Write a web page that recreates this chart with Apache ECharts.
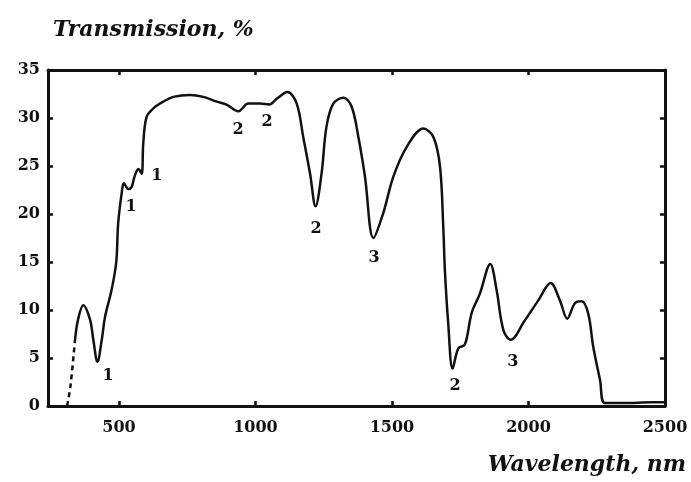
<!DOCTYPE html>
<html>
<head>
<meta charset="utf-8">
<script src="https://cdn.jsdelivr.net/npm/echarts@6/dist/echarts.min.js"></script>
<style>
  html, body { margin: 0; padding: 0; background: #fff; }
  #chart { width: 691px; height: 482px; }
</style>
</head>
<body>
<div id="chart"></div>
<script>
// Transmission spectrum: wavelength (nm) vs transmission (%)
const wavelength = [
  310, 322, 339, 350, 369, 394, 406, 421, 437, 449, 473, 490, 497, 510, 518,
  534, 546, 558, 571, 583, 589, 601, 626, 662, 699, 760, 809, 858, 894, 937,
  974, 1016, 1050, 1078, 1117, 1151, 1175, 1200, 1220, 1242, 1260, 1285, 1322,
  1352, 1377, 1401, 1432, 1468, 1505, 1554, 1615, 1652, 1676, 1688, 1694, 1706,
  1722, 1743, 1767, 1792, 1822, 1860, 1883, 1908, 1935, 1984, 2036, 2081, 2115,
  2142, 2170, 2195, 2219, 2237, 2262, 2280, 2350, 2450, 2500
];
const transmission = [
  0, 2, 6.9, 9, 10.5, 9, 6.9, 4.6, 6.9, 9.3, 12.1, 15, 19, 22.2, 23.2,
  22.6, 22.8, 24, 24.7, 24.2, 27.4, 30.1, 31, 31.7, 32.2, 32.4, 32.2, 31.7, 31.4, 30.7,
  31.5, 31.5, 31.4, 32, 32.7, 31.5, 28, 24.2, 20.8, 24.2, 29.1, 31.5, 32.1,
  31.2, 28, 23.9, 17.5, 20.1, 23.9, 27, 28.9, 28, 24.9, 18.5, 14, 8.6,
  3.9, 6, 6.4, 9.7, 11.7, 14.8, 12.1, 7.9, 6.9, 8.8, 11, 12.8, 11,
  9.1, 10.7, 10.9, 9.6, 6.2, 2.7, 0.3, 0.3, 0.4, 0.4
];
// the first rising stretch is drawn dashed
const dashedCount = 3;

// absorption band markers (overtone order) placed next to the dips
const bandText = ['1', '1', '1', '2', '2', '2', '3', '2', '3'];
const bandX = [460, 544, 639, 936, 1042, 1222, 1434, 1731, 1943];
const bandY = [3.1, 20.7, 24, 28.75, 29.6, 18.5, 15.4, 2.1, 4.6];

const xTicks = [500, 1000, 1500, 2000, 2500];

const pairs = wavelength.map((w, i) => [w, transmission[i]]);
const dashedPart = pairs.slice(0, dashedCount);
const solidPart = pairs.slice(dashedCount - 1);
const bandPoints = bandX.map((x, i) => ({ value: [x, bandY[i]], name: bandText[i] }));

const serif = "'DejaVu Serif', 'Liberation Serif', serif";
const labelFont = { fontFamily: serif, fontWeight: 'bold', fontSize: 16, color: '#111' };
const frameLine = { show: true, onZero: false, lineStyle: { color: '#111', width: 3 } };
const innerTick = { show: true, inside: true, length: 5, lineStyle: { color: '#111', width: 2.5 } };
const plain = v => String(v);

const chart = echarts.init(document.getElementById('chart'), null, { renderer: 'canvas' });
chart.setOption({
  backgroundColor: '#fff',
  animation: false,
  title: [
    {
      text: 'Transmission, %',
      left: 48, top: 14,
      textStyle: { fontFamily: serif, fontStyle: 'italic', fontWeight: 'bold', fontSize: 22, color: '#111' }
    },
    {
      text: 'Wavelength, nm',
      right: 0, top: 449,
      textStyle: { fontFamily: serif, fontStyle: 'italic', fontWeight: 'bold', fontSize: 22, color: '#111' }
    }
  ],
  grid: { left: 48, right: 26, top: 70, bottom: 76, containLabel: false },
  xAxis: [
    {
      type: 'value', position: 'bottom', min: 240, max: 2500,
      axisLine: frameLine,
      axisTick: Object.assign({ customValues: xTicks }, innerTick),
      axisLabel: Object.assign({ customValues: xTicks, margin: 14, formatter: plain }, labelFont),
      splitLine: { show: false }
    },
    {
      type: 'value', position: 'top', min: 240, max: 2500,
      axisLine: frameLine,
      axisTick: Object.assign({ customValues: xTicks.slice(0, 4) }, innerTick),
      axisLabel: { show: false },
      splitLine: { show: false }
    }
  ],
  yAxis: [
    {
      type: 'value', position: 'left', min: 0, max: 35, interval: 5,
      axisLine: frameLine,
      axisTick: innerTick,
      axisLabel: Object.assign({ margin: 8, formatter: plain }, labelFont),
      splitLine: { show: false }
    },
    {
      type: 'value', position: 'right', min: 0, max: 35, interval: 5,
      axisLine: frameLine,
      axisTick: innerTick,
      axisLabel: { show: false },
      splitLine: { show: false }
    }
  ],
  series: [
    {
      type: 'line', data: dashedPart, showSymbol: false, smooth: 0.3,
      lineStyle: { color: '#111', width: 2.5, type: [5, 4] }
    },
    {
      type: 'line', data: solidPart, showSymbol: false, smooth: 0.35,
      lineStyle: { color: '#111', width: 2.5 }
    },
    {
      type: 'scatter', data: bandPoints, symbolSize: 0,
      itemStyle: { color: '#111', opacity: 1 },
      label: {
        show: true, position: 'inside', formatter: p => p.name,
        fontFamily: serif, fontWeight: 'bold', fontSize: 16, color: '#111', opacity: 1
      }
    }
  ]
});
</script>
</body>
</html>
